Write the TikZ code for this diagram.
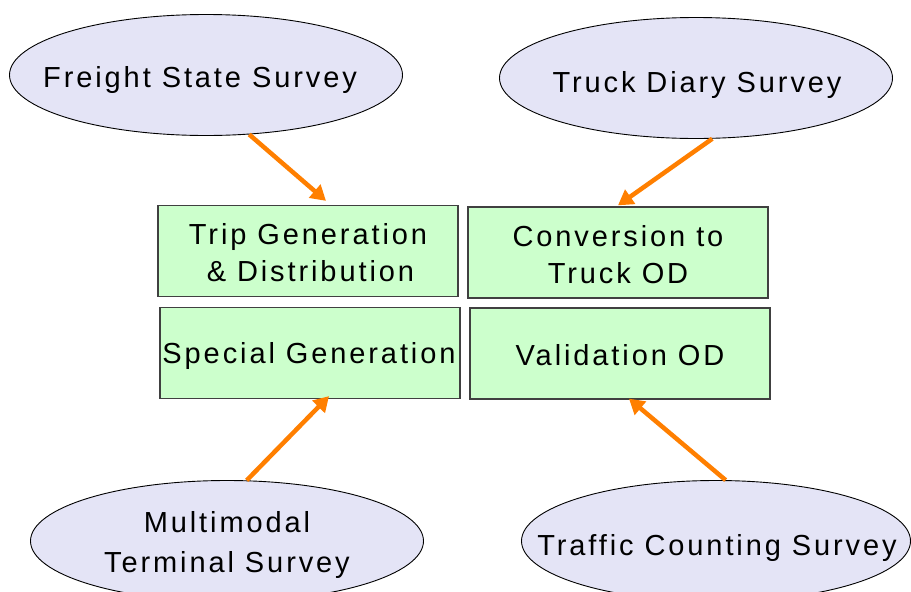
\documentclass[tikz,border=0pt]{standalone}
\usepackage{fontspec}
\setmainfont{Liberation Sans}[LetterSpace=10]
\usetikzlibrary{shapes.geometric,arrows.meta}
\definecolor{boxgreen}{HTML}{CCFFCC}
\definecolor{ellfill}{HTML}{E4E4F6}
\definecolor{arrorange}{HTML}{FF7F00}
\definecolor{boxedge}{HTML}{404040}
\tikzset{
  survey/.style={ellipse, draw=black, line width=0.9pt, fill=ellfill, inner sep=0pt,
    minimum width=393pt, minimum height=121pt},
  surveytext/.style={inner sep=0pt, align=center, font=\fontsize{29}{40}\selectfont},
  stage/.style={rectangle, draw=boxedge, line width=1.3pt, fill=boxgreen, inner sep=0pt,
    minimum width=300pt, minimum height=91pt},
  stagetext/.style={inner sep=0pt, align=center, font=\fontsize{29}{37}\selectfont},
  feed/.style={draw=arrorange, line width=4.5pt, -{Triangle[length=15pt,width=17pt]}}
}
\begin{document}
\begin{tikzpicture}[x=1pt,y=-1pt]
\useasboundingbox (0,0) rectangle (911,592);
\node[survey] (fs) at (206,75) {};
\node[surveytext] (fst) at (200,80) {Freight State Survey};
\node[survey] (td) at (696,78) {};
\node[surveytext] (tdt) at (697,85) {Truck Diary Survey};
\node[survey] (mt) at (227,541) {};
\node[surveytext] (mtt) at (227,545) {Multimodal\\Terminal Survey};
\node[survey, minimum width=389pt] (tc) at (716,541) {};
\node[surveytext] (tct) at (717,548) {Traffic Counting Survey};
\node[stage] (tg) at (308,251) {};
\node[stagetext] (tgt) at (308,253) {Trip Generation\\\,\& Distribution};
\node[stage] (ct) at (618,252.5) {};
\node[stagetext] (ctt) at (618,255) {Conversion to\\Truck OD};
\node[stage] (sg) at (310,353) {};
\node[stagetext] (sgt) at (309,356) {Special Generation};
\node[stage] (vo) at (620,353.5) {};
\node[stagetext] (vot) at (620,355) {Validation OD};
\draw[feed] (fs.-54) -- ([xshift=18pt,yshift=4pt]tg.north);
\draw[feed] (td.-75) -- ([yshift=1pt]ct.north);
\draw[feed] (mt.72) -- ([xshift=19pt,yshift=3pt]sg.south);
\draw[feed] (tc.81) -- ([xshift=9pt,yshift=1pt]vo.south);
\end{tikzpicture}
\end{document}
